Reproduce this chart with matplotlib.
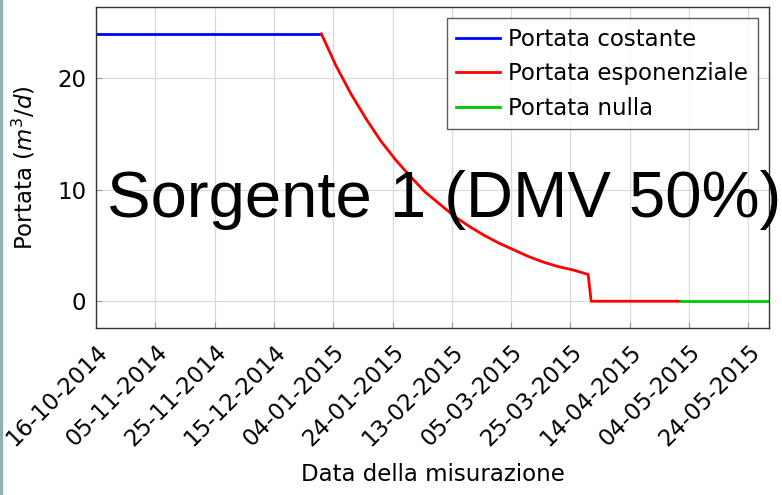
import numpy as np
import pandas as pd
import matplotlib
matplotlib.use("Agg")
import matplotlib.pyplot as plt
import matplotlib.dates as mdates

# Portata della sorgente nel periodo di misura
costante_date = ["2014-10-16", "2014-12-31"]
costante_val = [24.0, 24.0]

esp_date = ["2014-12-31", "2015-01-05", "2015-01-10", "2015-01-15", "2015-01-20",
            "2015-01-25", "2015-01-30", "2015-02-04", "2015-02-09", "2015-02-14",
            "2015-02-19", "2015-02-24", "2015-03-01", "2015-03-06", "2015-03-11",
            "2015-03-16", "2015-03-21", "2015-03-26", "2015-03-31", "2015-04-01",
            "2015-05-01"]
esp_val = [24.0, 21.1, 18.6, 16.4, 14.4,
           12.7, 11.2, 9.8, 8.7, 7.6,
           6.7, 5.9, 5.2, 4.6, 4.0,
           3.5, 3.1, 2.8, 2.4, 0.0,
           0.0]

nulla_date = ["2015-05-01", "2015-05-31"]
nulla_val = [0.0, 0.0]

tick_start = "2014-10-16"
tick_end = "2015-05-24"
y_ticks = [0, 10, 20]

plt.rcParams['font.family'] = ['DejaVu Sans']

fig = plt.figure(figsize=(7.82, 4.95), dpi=100)
ax = fig.add_axes([0.1228, 0.3374, 0.8606, 0.6485])

ax.plot(pd.to_datetime(costante_date), costante_val, color='#0000ff', lw=2.0,
        label='Portata costante')
ax.plot(pd.to_datetime(esp_date), esp_val, color='#ff0000', lw=2.0,
        label='Portata esponenziale')
ax.plot(pd.to_datetime(nulla_date), nulla_val, color='#00c800', lw=2.0,
        label='Portata nulla')

ax.set_xlim(pd.Timestamp("2014-10-16"), pd.Timestamp("2015-05-31"))
ax.set_ylim(-2.4, 26.4)

ticks = pd.date_range(tick_start, tick_end, freq='20D')
ax.set_xticks(ticks)
ax.xaxis.set_major_formatter(mdates.DateFormatter('%d-%m-%Y'))
ax.set_yticks(y_ticks)
for lab in ax.get_xticklabels():
    lab.set_rotation(45)
    lab.set_ha('right')
    lab.set_va('top')
    lab.set_rotation_mode('anchor')

ax.tick_params(labelsize=16.5, direction='in', length=4, color='#999999', pad=7)
ax.tick_params(axis='x', pad=9)
ax.grid(True, color='#dadada', lw=0.9)
ax.set_axisbelow(True)
for s in ax.spines.values():
    s.set_color('#333333')
    s.set_linewidth(1.0)

ax.set_ylabel('Portata ($m^3/d$)', fontsize=16.5, labelpad=14)
ax.set_xlabel('Data della misurazione', fontsize=16.5, labelpad=9)

leg = ax.legend(loc='upper right', fontsize=16.5, frameon=True, fancybox=False,
                handlelength=1.95, handletextpad=0.35, borderpad=0.4,
                labelspacing=0.5, borderaxespad=0.5)
leg.get_frame().set_edgecolor('#333333')
leg.get_frame().set_linewidth(1.0)

fig.text(0.137, 0.5616, 'Sorgente 1 (DMV 50%)', fontsize=47,
         family='Liberation Sans', color='black', va='baseline', ha='left',
         zorder=10)

# sottile bordo a sinistra
fig.patches.append(plt.Rectangle((0, 0), 0.003, 1, transform=fig.transFigure,
                                 color='#8fb3b5', zorder=0))

fig.savefig('out.png', dpi=100)
